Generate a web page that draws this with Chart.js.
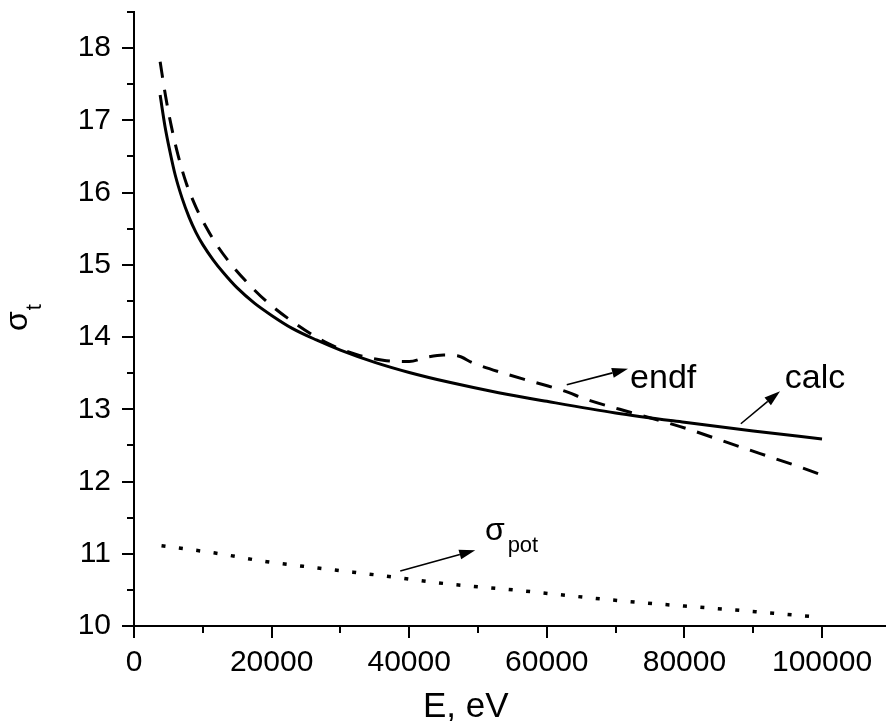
<!DOCTYPE html>
<html>
<head>
<meta charset="utf-8">
<script src="https://cdn.jsdelivr.net/npm/chart.js@4.4.1/dist/chart.umd.min.js"></script>
<style>
  html, body { margin: 0; padding: 0; background: #fff; }
</style>
</head>
<body>
<canvas id="grafico" width="886" height="721"></canvas>
<script>
// Dados (E em eV, sigma em barns)
const energiaCalc = [3800, 4500, 5200, 6000, 7000, 8000, 9000, 10000, 11500, 13000, 15000, 17500, 20000, 23000, 26500, 30000, 35000, 40000, 46000, 53000, 60000, 70000, 80000, 90000, 100000];
const sigmaCalc = [17.35, 16.92, 16.58, 16.24, 15.92, 15.66, 15.45, 15.28, 15.07, 14.89, 14.68, 14.47, 14.30, 14.12, 13.96, 13.82, 13.65, 13.51, 13.37, 13.23, 13.11, 12.95, 12.82, 12.70, 12.59];

const energiaEndf = [3800, 4600, 5400, 6400, 7600, 9000, 10500, 12000, 14000, 16500, 19300, 23700, 27800, 32300, 36200, 40000, 42500, 45000, 47000, 49300, 53700, 58000, 62000, 66300, 70600, 79400, 88100, 96800, 100000];
const sigmaEndf = [17.81, 17.33, 16.93, 16.52, 16.13, 15.80, 15.52, 15.28, 15.02, 14.75, 14.49, 14.17, 13.93, 13.76, 13.68, 13.66, 13.72, 13.75, 13.74, 13.64, 13.50, 13.38, 13.27, 13.12, 13.00, 12.76, 12.48, 12.20, 12.09];

const energiaPot = [4000, 11800, 19300, 27000, 37500, 44900, 55100, 70600, 88800, 100000];
const sigmaPot = [11.11, 11.01, 10.89, 10.80, 10.68, 10.59, 10.50, 10.35, 10.21, 10.12];

// Marcas dos eixos
const ticksX = [0, 20000, 40000, 60000, 80000, 100000];
const ticksXMenores = [10000, 30000, 50000, 70000, 90000];
const ticksY = [10, 11, 12, 13, 14, 15, 16, 17, 18];
const ticksYMenores = [10.5, 11.5, 12.5, 13.5, 14.5, 15.5, 16.5, 17.5, 18.5];

// Rótulos e setas (posições em unidades dos dados)
const rotulos = [
    { texto: 'endf', x: 72100, y: 13.29 },
    { texto: 'calc', x: 94600, y: 13.29 }
];
const setas = [
    { de: [62900, 13.34], para: [71800, 13.56] },
    { de: [88200, 12.80], para: [93900, 13.25] },
    { de: [38700, 10.76], para: [49600, 11.05] }
];

const FONTE = '"Liberation Sans", Arial, sans-serif';

function montarPontos(xs, ys) {
    return xs.map((x, i) => ({ x: x, y: ys[i] }));
}

// Desenha os traços dos eixos (maiores e menores), títulos e anotações
const pluginExtras = {
    id: 'extras',
    afterDraw(chart) {
        const ctx = chart.ctx;
        const area = chart.chartArea;
        const sx = chart.scales.x;
        const sy = chart.scales.y;

        ctx.save();
        ctx.strokeStyle = '#000';
        ctx.lineWidth = 2;
        const tracoX = (v, len) => {
            const px = Math.round(sx.getPixelForValue(v));
            ctx.beginPath();
            ctx.moveTo(px, area.bottom);
            ctx.lineTo(px, area.bottom + len);
            ctx.stroke();
        };
        const tracoY = (v, len) => {
            const py = Math.round(sy.getPixelForValue(v));
            ctx.beginPath();
            ctx.moveTo(area.left, py);
            ctx.lineTo(area.left - len, py);
            ctx.stroke();
        };
        ticksX.forEach(v => tracoX(v, 12));
        ticksXMenores.forEach(v => tracoX(v, 7));
        ticksY.forEach(v => tracoY(v, 12));
        ticksYMenores.forEach(v => tracoY(v, 7));

        ctx.fillStyle = '#000';
        ctx.textBaseline = 'alphabetic';
        ctx.textAlign = 'left';

        // título do eixo x
        ctx.font = '35px ' + FONTE;
        ctx.fillText('E, eV', 423, 717);

        // título do eixo y (σ_t girado)
        ctx.save();
        ctx.translate(27, 331);
        ctx.rotate(-Math.PI / 2);
        ctx.font = '32px ' + FONTE;
        ctx.fillText('σ', 0, 0);
        const w = ctx.measureText('σ').width;
        ctx.font = '22px ' + FONTE;
        ctx.fillText('t', w + 1, 14);
        ctx.restore();

        // rótulos endf / calc
        ctx.font = '34px ' + FONTE;
        for (const r of rotulos) {
            ctx.fillText(r.texto, sx.getPixelForValue(r.x), sy.getPixelForValue(r.y));
        }

        // σ_pot
        const px = sx.getPixelForValue(51000);
        const py = sy.getPixelForValue(11.19);
        ctx.font = '32px ' + FONTE;
        ctx.fillText('σ', px, py);
        const ws = ctx.measureText('σ').width;
        ctx.font = '22px ' + FONTE;
        ctx.fillText('pot', px + ws + 3, py + 12);

        // setas
        ctx.lineWidth = 1.6;
        for (const s of setas) {
            const x1 = sx.getPixelForValue(s.de[0]);
            const y1 = sy.getPixelForValue(s.de[1]);
            const x2 = sx.getPixelForValue(s.para[0]);
            const y2 = sy.getPixelForValue(s.para[1]);
            const ang = Math.atan2(y2 - y1, x2 - x1);
            const comp = 16, larg = 5;
            const bx = x2 - comp * Math.cos(ang);
            const by = y2 - comp * Math.sin(ang);
            ctx.beginPath();
            ctx.moveTo(x1, y1);
            ctx.lineTo(bx, by);
            ctx.stroke();
            ctx.beginPath();
            ctx.moveTo(x2, y2);
            ctx.lineTo(bx + larg * Math.sin(ang), by - larg * Math.cos(ang));
            ctx.lineTo(bx - larg * Math.sin(ang), by + larg * Math.cos(ang));
            ctx.closePath();
            ctx.fill();
        }
        ctx.restore();
    }
};

const ctx = document.getElementById('grafico').getContext('2d');
const chart = new Chart(ctx, {
    type: 'line',
    data: {
        datasets: [
            {
                label: 'calc',
                data: montarPontos(energiaCalc, sigmaCalc),
                borderColor: '#000',
                borderWidth: 3,
                pointRadius: 0,
                cubicInterpolationMode: 'monotone',
                fill: false
            },
            {
                label: 'endf',
                data: montarPontos(energiaEndf, sigmaEndf),
                borderColor: '#000',
                borderWidth: 3,
                borderDash: [16, 12],
                pointRadius: 0,
                cubicInterpolationMode: 'monotone',
                fill: false
            },
            {
                label: 'pot',
                data: montarPontos(energiaPot, sigmaPot),
                borderColor: '#000',
                borderWidth: 3.5,
                borderDash: [4, 13.5],
                pointRadius: 0,
                cubicInterpolationMode: 'monotone',
                fill: false
            }
        ]
    },
    options: {
        responsive: false,
        devicePixelRatio: 1,
        animation: false,
        layout: {
            padding: { left: 0, right: 0, top: 12, bottom: 0 }
        },
        plugins: {
            legend: { display: false },
            tooltip: { enabled: false }
        },
        scales: {
            x: {
                type: 'linear',
                min: 0,
                max: 109300,
                grid: { display: false },
                border: { display: true, color: '#000', width: 2 },
                afterBuildTicks: function (scale) {
                    scale.ticks = ticksX.map(v => ({ value: v }));
                },
                ticks: {
                    autoSkip: false,
                    maxRotation: 0,
                    padding: 11,
                    color: '#000',
                    font: { family: FONTE, size: 30 },
                    callback: function (v) {
                        return String(v);
                    }
                },
                afterFit: function (scale) {
                    scale.height = 95;
                    scale.paddingLeft = 0;
                    scale.paddingRight = 0;
                }
            },
            y: {
                type: 'linear',
                min: 10,
                max: 18.5,
                grid: { display: false },
                border: { display: true, color: '#000', width: 2 },
                afterBuildTicks: function (scale) {
                    scale.ticks = ticksY.map(v => ({ value: v }));
                },
                ticks: {
                    autoSkip: false,
                    padding: 15,
                    color: '#000',
                    font: { family: FONTE, size: 30 },
                    callback: function (v) {
                        return String(v);
                    }
                },
                afterFit: function (scale) {
                    scale.width = 134;
                    scale.paddingTop = 0;
                    scale.paddingBottom = 0;
                }
            }
        }
    },
    plugins: [pluginExtras]
});
</script>
</body>
</html>
